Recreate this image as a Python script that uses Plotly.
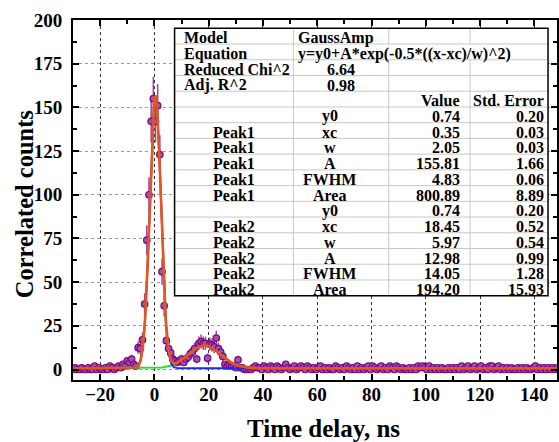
import numpy as np
import plotly.graph_objects as go

# ---------------- data ----------------
X_START = -30.0      # first time bin, ns
X_STEP = 0.8         # bin width, ns

counts_left = [0, 1, 0, 0, 1, 0, 0, 1, 0, 0, 2, 0, 1, 0, 0, 1, 0, 2, 1, 0,
               1, 2, 1, 3, 2, 5, 4, 6, 3]
counts_peaks = [2, 12.5, 12, 17, 37.5, 74, 100, 142, 155, 142,
                151, 123, 56, 36.5, 16.5, 12, 9.5, 6, 5, 4,
                5, 6, 4, 6, 7, 9, 10, 12, 6, 15,
                16, 15, 15, 6.5, 14.5, 14, 13, 18, 12, 10,
                7.5, 3, 2, 2.5, 2, 2, 1, 5.5, 1, 1,
                0, 0, 0, 0, 1, 2, 1, 1, 0]
counts_right = [2, 1, 0, 2, 1, 0, 2, 1, 0, 1,
                3, 1, 0, 1, 2, 0, 1, 2, 1, 0,
                2, 1, 0, 1, 0, 1, 2, 0, 1, 0,
                1, 0, 0, 2, 1, 0, 1, 0, 2, 1,
                0, 1, 0, 2, 0, 1, 0, 1, 2, 0,
                2, 1, 0, 1, 2, 0, 1, 0, 2, 1,
                0, 2, 1, 0, 1, 0, 0, 1, 0, 1,
                0, 2, 1, 2, 1, 0, 2, 0, 1, 0,
                1, 0, 1, 0, 0, 1, 0, 1, 0, 1,
                0, 2, 0, 1, 2, 0, 1, 2, 0, 1,
                2, 0, 1, 0, 2, 2, 0, 1, 2, 0,
                1, 0, 1, 0, 1, 0, 0, 1, 0, 1,
                0, 1, 0, 0, 1, 2, 0, 1, 0, 1,
                0, 1, 0, 1, 0, 1, 0, 1]
counts = np.array(counts_left + counts_peaks + counts_right, dtype=float)
time_ns = X_START + X_STEP * np.arange(len(counts))
count_err = np.sqrt(np.maximum(counts, 1.0))   # Poisson uncertainty

# fit parameters (GaussAmp)
y0 = 0.74
peak1 = dict(xc=0.35, w=2.05, A=155.81)
peak2 = dict(xc=18.45, w=5.97, A=12.98)

# table text
table_head = [("Model", "GaussAmp"),
              ("Equation", "y=y0+A*exp(-0.5*((x-xc)/w)^2)"),
              ("Reduced Chi^2", "6.64"),
              ("Adj. R^2", "0.98")]
tab_peak = ["", "Peak1", "Peak1", "Peak1", "Peak1", "Peak1",
            "", "Peak2", "Peak2", "Peak2", "Peak2", "Peak2"]
tab_param = ["y0", "xc", "w", "A", "FWHM", "Area",
             "y0", "xc", "w", "A", "FWHM", "Area"]
tab_value = ["0.74", "0.35", "2.05", "155.81", "4.83", "800.89",
             "0.74", "18.45", "5.97", "12.98", "14.05", "194.20"]
tab_error = ["0.20", "0.03", "0.03", "1.66", "0.06", "8.89",
             "0.20", "0.52", "0.54", "0.99", "1.28", "15.93"]

x_tick_vals = [-20, 0, 20, 40, 60, 80, 100, 120, 140]
y_tick_vals = [0, 25, 50, 75, 100, 125, 150, 175, 200]

# ---------------- figure ----------------
FONT = "Liberation Serif, Times New Roman, serif"
W, H = 559, 442
ML, MR, MT, MB = 73, 0, 20, 62
PW, PH = W - ML - MR, H - MT - MB


def px(x):
    return (x - ML) / PW


def py(y):
    return (H - MB - y) / PH


def gauss(x, p):
    return p["A"] * np.exp(-0.5 * ((x - p["xc"]) / p["w"]) ** 2)


xf = np.linspace(-30, 150, 1500)

fig = go.Figure()
fig.add_trace(go.Scatter(
    x=time_ns, y=counts, mode="markers",
    marker=dict(symbol="circle", size=6.5, color="#A64FB0",
                line=dict(color="#78087F", width=1.2)),
    error_y=dict(type="data", array=count_err, color="#9A40AA",
                 thickness=1.5, width=0),
    showlegend=False))
fig.add_trace(go.Scatter(x=xf, y=y0 + gauss(xf, peak2), mode="lines",
                         line=dict(color="#22E022", width=2), showlegend=False))
fig.add_trace(go.Scatter(x=xf, y=y0 + gauss(xf, peak1), mode="lines",
                         line=dict(color="#1A2AF0", width=2), showlegend=False))
fig.add_trace(go.Scatter(x=xf, y=y0 + gauss(xf, peak1) + gauss(xf, peak2),
                         mode="lines", line=dict(color="#E5561C", width=2.6),
                         showlegend=False))

tickfont = dict(family=FONT, size=19, color="black", weight="bold")
fig.update_xaxes(range=[-30, -30 + PW / 2.725], tickvals=x_tick_vals,
                 ticks="inside", ticklen=6, tickwidth=1.5, tickcolor="black",
                 showline=True, linewidth=2, linecolor="black", mirror="ticks",
                 showgrid=True, gridcolor="#333333", griddash="3px,3px",
                 gridwidth=1, zeroline=False, tickfont=tickfont,
                 ticklabelstandoff=-4,
                 minor=dict(dtick=10, tick0=0, ticks="inside", ticklen=4,
                            tickwidth=1.5, tickcolor="black", showgrid=False))
fig.update_yaxes(range=[-6, 200], tickvals=y_tick_vals,
                 ticks="inside", ticklen=6, tickwidth=1.5, tickcolor="black",
                 showline=True, linewidth=2, linecolor="black", mirror="ticks",
                 showgrid=True, gridcolor="#9a9a9a", griddash="3px,3px",
                 gridwidth=1, zeroline=False, tickfont=tickfont,
                 ticklabelstandoff=5,
                 minor=dict(dtick=12.5, tick0=0, ticks="inside", ticklen=4,
                            tickwidth=1.5, tickcolor="black", showgrid=False))

shapes = []
annots = []

# axis titles
annots.append(dict(text="Time delay, ns", xref="paper", yref="paper",
                   x=px(325), y=py(428), xanchor="center", yanchor="middle",
                   showarrow=False,
                   font=dict(family=FONT, size=25, color="black", weight="bold")))
annots.append(dict(text="Correlated counts", xref="paper", yref="paper",
                   x=px(24), y=py(204), xanchor="center", yanchor="middle",
                   textangle=-90, showarrow=False,
                   font=dict(family=FONT, size=24.5, color="black", weight="bold")))

# table box
TL, TR, TT, TB = 175, 550, 28.3, 295.7
NROWS = 17
RH = (TB - TT) / NROWS
COLS = [175, 294.3, 390, 471.7, 550]

shapes.append(dict(type="rect", xref="paper", yref="paper",
                   x0=px(TL), x1=px(TR), y0=py(TB), y1=py(TT),
                   fillcolor="white", line=dict(width=0), layer="above"))
for k in range(1, NROWS):
    yy = TT + k * RH
    shapes.append(dict(type="line", xref="paper", yref="paper",
                       x0=px(TL), x1=px(TR), y0=py(yy), y1=py(yy),
                       line=dict(color="#c8c8c8", width=1), layer="above"))
shapes.append(dict(type="line", xref="paper", yref="paper",
                   x0=px(COLS[1]), x1=px(COLS[1]), y0=py(TT), y1=py(TB),
                   line=dict(color="#c8c8c8", width=1), layer="above"))
for c in COLS[2:4]:
    for (a, b) in [(TT, TT + RH), (TT + 2 * RH, TB)]:
        shapes.append(dict(type="line", xref="paper", yref="paper",
                           x0=px(c), x1=px(c), y0=py(a), y1=py(b),
                           line=dict(color="#c8c8c8", width=1), layer="above"))
shapes.append(dict(type="rect", xref="paper", yref="paper",
                   x0=px(TL), x1=px(TR), y0=py(TB), y1=py(TT),
                   line=dict(color="black", width=1.5), layer="above"))

tfont = dict(family=FONT, size=16, color="black", weight="bold")


def cell(text, xpix, row, anchor):
    ybot = TT + (row + 1) * RH
    annots.append(dict(text=text, xref="paper", yref="paper",
                       x=px(xpix), y=py(ybot - 6.2), xanchor=anchor,
                       yanchor="middle", showarrow=False, font=tfont,
                       borderpad=0))


for r, (lab, val) in enumerate(table_head):
    cell(lab, 183, r, "left")
    if r < 2:
        cell(val, 298, r, "left")
    else:
        cell(val, 342, r, "center")
cell("Value", 462.5, 4, "right")
cell("Std. Error", 546.5, 4, "right")
for i in range(len(tab_param)):
    r = 5 + i
    if tab_peak[i]:
        cell(tab_peak[i], 235, r, "center")
    cell(tab_param[i], 331, r, "center")
    cell(tab_value[i], 462.5, r, "right")
    cell(tab_error[i], 546.5, r, "right")

fig.update_layout(width=W, height=H,
                  margin=dict(l=ML, r=MR, t=MT, b=MB),
                  paper_bgcolor="white", plot_bgcolor="white",
                  shapes=shapes, annotations=annots, showlegend=False)

fig.write_html("out.html", config={"displayModeBar": False},
               post_script="document.body.style.margin='0';"
                           "document.body.style.overflow='hidden';")
